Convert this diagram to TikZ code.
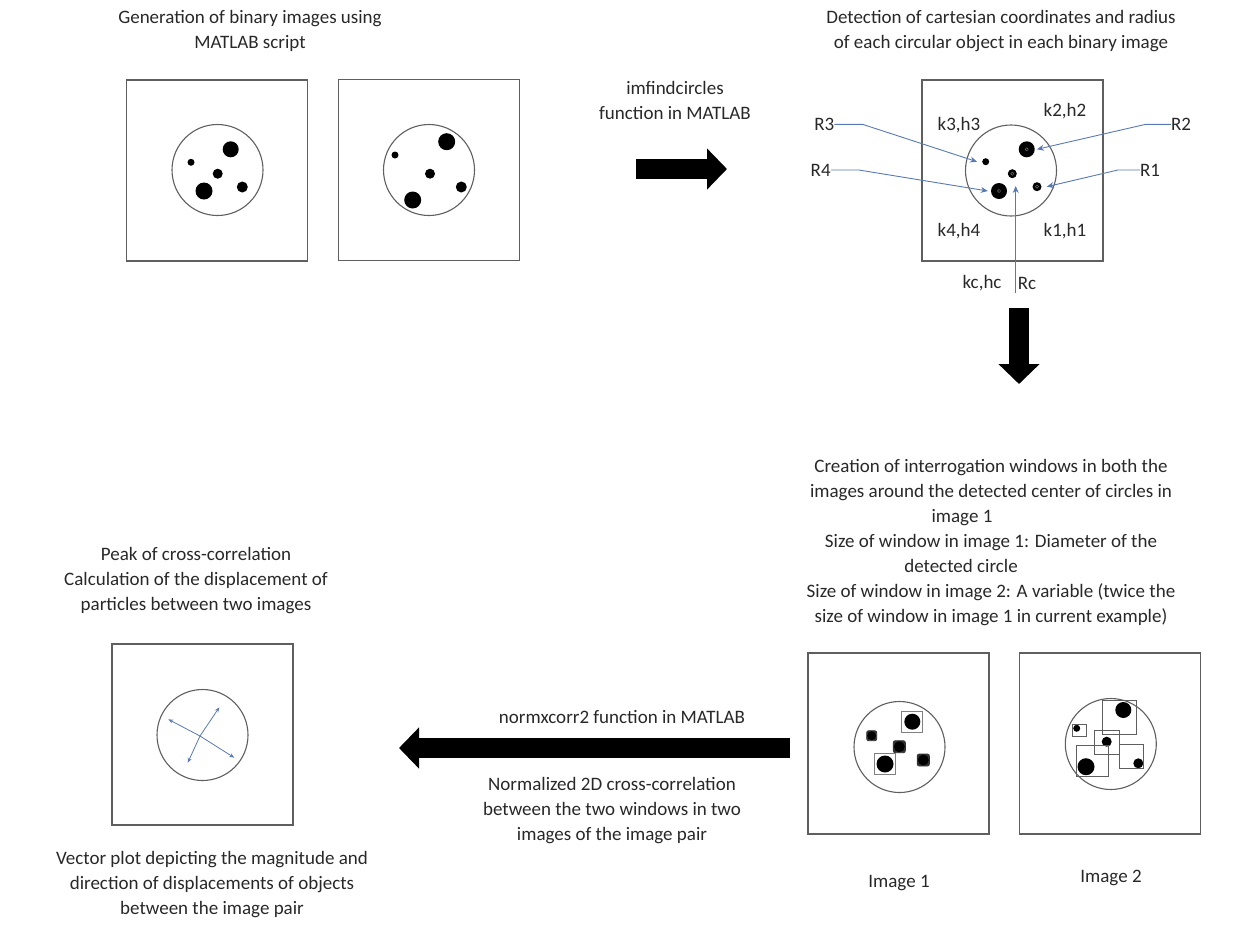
\documentclass[tikz,border=0pt]{standalone}
\usepackage{fontspec}
\setmainfont{Carlito}
\usetikzlibrary{arrows.meta}

\definecolor{txtgray}{RGB}{40,40,40}
\definecolor{boxgray}{RGB}{95,95,95}
\definecolor{ptrblue}{RGB}{88,122,178}

\begin{document}
\begin{tikzpicture}[x=1pt, y=-1pt,
      every node/.style={text=txtgray, font=\fontsize{19}{25}\selectfont},
      txt/.style={align=center, inner sep=0pt},
      frame/.style={draw=boxgray, line width=1.3pt, minimum size=181pt, inner sep=0pt},
      disc/.style={draw=boxgray, line width=1.1pt, circle, minimum size=91pt, inner sep=0pt},
      dot/.style={circle, fill=black, inner sep=0pt, minimum size=#1},
      win/.style={draw=#1, line width=0.9pt, inner sep=0pt},
      bigarrow/.style={line width=20pt, -{Triangle[length=20pt, width=40pt]}},
      pointer/.style={draw=ptrblue, line width=0.9pt, -{Stealth[length=7pt, width=6pt]}}]
  \useasboundingbox (0,0) rectangle (1233,943);

  % step 1: generated binary images
  \node[txt] (gentitle) at (250,31) {Generation of binary images using\\MATLAB script};
  \node[frame] (imgA) at (217,170.5) {};
  \node[frame] (imgB) at (429,170) {};
  \node[disc] (discA) at (217.5,170) {};
  \node[disc] (discB) at (429,170) {};
  \node[dot=16pt] at (230.7,149.3) {};
  \node[dot=7pt]  at (191,162.3) {};
  \node[dot=10pt] at (217.7,173.7) {};
  \node[dot=17pt] at (204,191) {};
  \node[dot=11pt] at (242.3,187) {};
  \node[dot=17pt] at (446.7,141.7) {};
  \node[dot=7pt]  at (395,155) {};
  \node[dot=10pt] at (430,173.7) {};
  \node[dot=17pt] at (412.7,200) {};
  \node[dot=11pt] at (461.3,187) {};

  \node[txt] (imfind) at (675,100) {imfindcircles\\function in MATLAB};
  \coordinate (findA) at (636,169);
  \coordinate (findB) at (727,169);
  \draw[bigarrow] (findA) -- (findB);

  % step 2: detected centres and radii
  \node[txt] (dettitle) at (1001,31) {Detection of cartesian coordinates and radius\\of each circular object in each binary image};
  \node[frame] (imgC) at (1012.5,170.5) {};
  \node[disc] (discC) at (1011,170.5) {};
  \node[dot=16pt] (c2) at (1026.7,149.3) {};
  \node[dot=7pt]  (c3) at (985.7,161.7) {};
  \node[dot=9pt]  (cc) at (1012.3,173.7) {};
  \node[dot=16pt] (c4) at (999,191) {};
  \node[dot=9pt]  (c1) at (1037,186.7) {};
  \foreach \p in {c1,c2,c4,cc}
    \draw[black!55, line width=0.5pt] (\p) circle (1.6pt);

  \node[txt] (k2) at (1065,110.7) {k2,h2};
  \node[txt] (k3) at (959,125) {k3,h3};
  \node[txt] (k4) at (959,230.7) {k4,h4};
  \node[txt] (k1) at (1065,230.7) {k1,h1};
  \node[txt] (R3) at (824.3,124.3) {R3};
  \node[txt] (R4) at (820.7,170) {R4};
  \node[txt] (R2) at (1181,124.3) {R2};
  \node[txt] (R1) at (1150,170) {R1};
  \node[txt] (kc) at (982,283) {kc,hc};
  \node[txt] (Rc) at (1027,283) {Rc};

  \draw[pointer] (R3.east) -- ++(28,0) -- ([xshift=-5pt]c3.west);
  \draw[pointer] (R4.east) -- ++(28,0) -- ([xshift=-3pt]c4.west);
  \draw[pointer] (R2.west) -- ++(-25,0) -- ([xshift=2pt]c2.east);
  \draw[pointer] (R1.west) -- ++(-22,0) -- ([xshift=5pt]c1.east);
  \coordinate (rcfoot) at (1015.7,293);
  \coordinate (rchead) at (1015.7,186);
  \draw[pointer] (rcfoot) -- (rchead);

  \coordinate (detA) at (1019,308);
  \coordinate (detB) at (1019,384);
  \draw[bigarrow] (detA) -- (detB);

  % step 3: interrogation windows
  \node[txt] (creation) at (991,543) {Creation of interrogation windows in both the\\images around the detected center of circles in\\image 1\rule{58pt}{0pt}\\Size of window in image 1: Diameter of the\\detected circle\rule{60pt}{0pt}\\Size of window in image 2: A variable (twice the\\size of window in image 1 in current example)};
  \node[frame] (imgD) at (898.5,743.5) {};
  \node[frame] (imgE) at (1110,743.5) {};
  \node[disc] (discD) at (899.5,747) {};
  \node[disc] (discE) at (1110.8,744) {};
  % image 1: windows of one diameter
  \node[win=gray, minimum size=21pt] at (912.3,721.7) {};
  \node[win=black!80, fill=black!80, rounded corners=2pt, minimum size=10pt] at (871.7,735.7) {};
  \node[win=black!80, fill=black!80, rounded corners=2pt, minimum size=12pt] at (899.3,746.7) {};
  \node[win=gray, minimum size=21pt] at (885,764) {};
  \node[win=black!80, fill=black!80, rounded corners=2pt, minimum size=12pt] at (923.3,760) {};
  \node[dot=16pt] at (912.3,721.7) {};
  \node[dot=9pt]  at (871.7,735.7) {};
  \node[dot=11pt] at (899.3,746.7) {};
  \node[dot=17pt] at (885,764) {};
  \node[dot=11pt] at (923.3,760) {};
  % image 2: windows of twice the size
  \node[dot=16pt] at (1123.3,710) {};
  \node[dot=7pt]  at (1076.7,728.3) {};
  \node[dot=10pt] at (1106.7,741.7) {};
  \node[dot=17pt] at (1086,766.7) {};
  \node[dot=10pt] at (1138.3,763.3) {};
  \draw[boxgray, line width=0.9pt] (1102.7,700) rectangle (1136.7,734.3);
  \draw[boxgray, line width=0.9pt] (1072.7,724) rectangle (1086.7,736.7);
  \draw[boxgray, line width=0.9pt] (1094.3,730) rectangle (1119,754.3);
  \draw[boxgray, line width=0.9pt] (1076.7,745) rectangle (1108.3,776.7);
  \draw[boxgray, line width=0.9pt] (1119,744) rectangle (1143.3,768.3);
  \node[txt] (lblD) at (899,883) {Image 1};
  \node[txt] (lblE) at (1111,878) {Image 2};

  % step 4: correlation and vector plot
  \node[txt] (normx) at (622,717) {normxcorr2 function in MATLAB};
  \node[txt] (normcc) at (612,811) {Normalized 2D cross-correlation\\between the two windows in two\\images of the image pair};
  \coordinate (corrA) at (790,748);
  \coordinate (corrB) at (399,748);
  \draw[bigarrow] (corrA) -- (corrB);

  \node[txt] (peak) at (196,581) {Peak of cross-correlation\\Calculation of the displacement of\\particles between two images};
  \node[frame] (imgF) at (202.5,734.5) {};
  \node[disc] (discF) at (202.5,735) {};
  \coordinate (vc) at (200,736);
  \foreach \tip in {(219.3,707.3), (168.3,719.3), (187.7,762.7), (234.3,757.7)}
    \draw[draw=ptrblue, line width=0.8pt, -{Stealth[length=5pt, width=4pt]}] (vc) -- \tip;
  \node[txt] (vecplot) at (212,885) {Vector plot depicting the magnitude and\\direction of displacements of objects\\between the image pair};
\end{tikzpicture}
\end{document}
